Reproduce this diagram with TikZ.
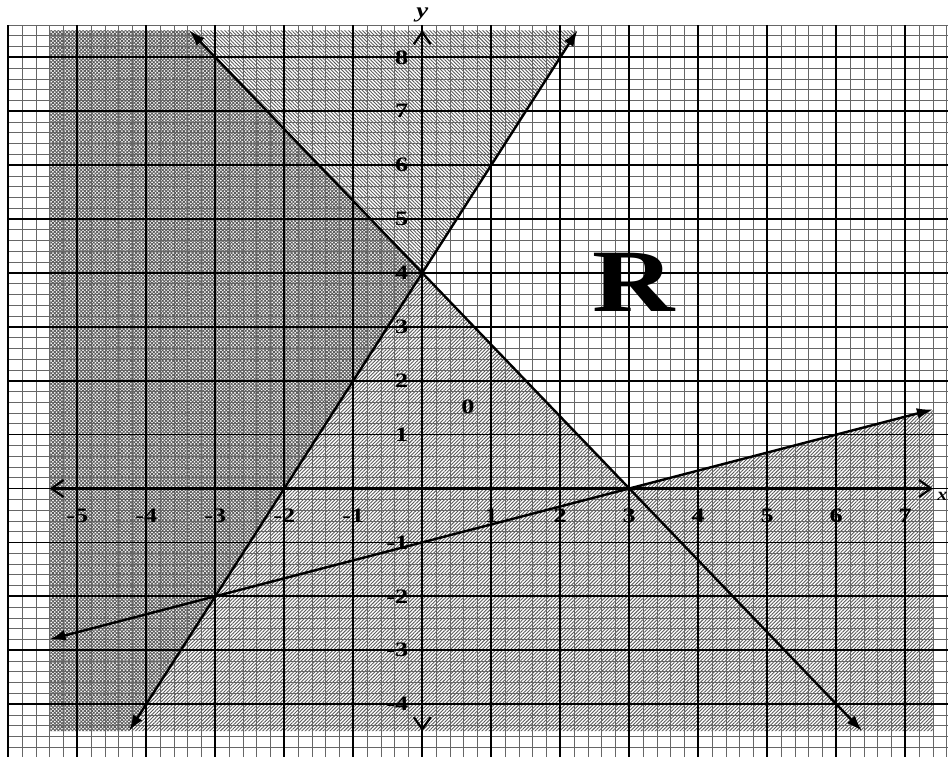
\documentclass[tikz,border=0pt]{standalone}
\usepackage{fontspec}
\setmainfont{Liberation Serif}
\usetikzlibrary{arrows.meta,patterns.meta}
\begin{document}
\begin{tikzpicture}[x=69pt,y=53.9pt,
  minorgrid/.style={draw=black!60,line width=0.65pt},
  majorgrid/.style={draw=black,line width=1.8pt},
  hatchA/.style={pattern={Lines[angle=-45,distance=2.5pt,line width=0.9pt]},pattern color=black!65},
  hatchB/.style={pattern={Lines[angle=45,distance=2.5pt,line width=0.9pt]},pattern color=black!65},
  bound/.style={line width=2.4pt,{Latex[length=16pt,width=11pt]}-{Latex[length=16pt,width=11pt]}},
  axisline/.style={line width=2.2pt,{Straight Barb[length=12pt,width=17pt]}-{Straight Barb[length=12pt,width=17pt]}},
  lab/.style={font=\bfseries\fontsize{20.5}{20.5}\selectfont,inner sep=0pt},
]
\useasboundingbox (-6.12,-4.98) rectangle (7.619,9.063);
% shading
\path[hatchA] (-5.4,8.5) -- (2.25,8.5) -- (-4.25,-4.5) -- (-5.4,-4.5) -- cycle;
\path[hatchB] (-5.4,8.5) -- (-3.375,8.5) -- (3,0) -- (7.4,1.4667) -- (7.4,-4.5) -- (-5.4,-4.5) -- cycle;
% grid
\foreach \i in {-30,...,38} \draw[minorgrid] (\i/5,-5) -- (\i/5,8.6);
\foreach \j in {-25,...,43} \draw[minorgrid] (-6,\j/5) -- (7.619,\j/5);
\foreach \i in {-6,...,7} \draw[majorgrid] (\i,-5) -- (\i,8.6);
\foreach \j in {-5,...,8} \draw[majorgrid] (-6,\j) -- (7.619,\j);
% axes
\coordinate (xa) at (-5.4,0);
\coordinate (xb) at (7.4,0);
\coordinate (ya) at (0,-4.5);
\coordinate (yb) at (0,8.5);
\draw[axisline] (xa) -- (xb);
\draw[axisline] (ya) -- (yb);
% boundary lines
\coordinate (p1a) at (-3.375,8.5);
\coordinate (p1b) at (6.375,-4.5);
\coordinate (p2a) at (2.25,8.5);
\coordinate (p2b) at (-4.25,-4.5);
\coordinate (p3a) at (-5.4,-2.8);
\coordinate (p3b) at (7.4,1.4667);
\draw[bound] (p1a) -- (p1b);
\draw[bound] (p2a) -- (p2b);
\draw[bound] (p3a) -- (p3b);
% labels
\foreach \k in {-5,...,-1,1,2,...,7}
  \node[lab] (xl\k) at (\k,-0.5) {\scalebox{1.28}[1]{\k}};
\foreach \k in {-4,...,-1,1,2,...,8}
  \node[lab,anchor=east] (yl\k) at (-0.2,\k) {\scalebox{1.28}[1]{\k}};
\node[lab] (zero) at (0.66,1.52) {\scalebox{1.28}[1]{0}};
\node[inner sep=0pt,font=\bfseries\fontsize{89}{89}\selectfont] (R) at (3.06,3.82) {\scalebox{1.28}[1]{R}};
\node[inner sep=0pt,font=\bfseries\itshape\fontsize{21}{21}\selectfont] (ylab) at (0,8.79) {\scalebox{1.28}[1]{y}};
\node[inner sep=0pt,anchor=east,font=\bfseries\itshape\fontsize{18}{18}\selectfont] (xlab) at (7.612,-0.14) {\scalebox{1.1}[1]{x}};
\end{tikzpicture}
\end{document}
